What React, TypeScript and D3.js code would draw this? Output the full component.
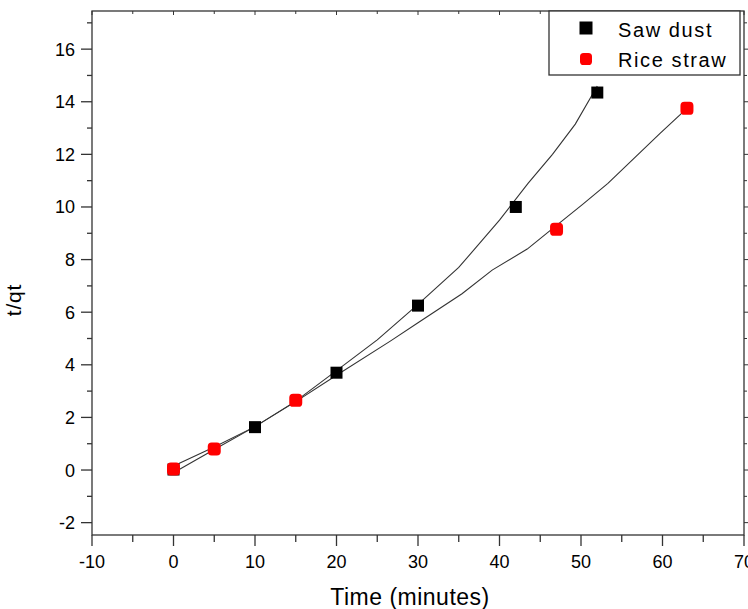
import { useEffect, useRef } from "react";
import * as d3 from "d3";

// measured points
const sawTime = [0, 10, 20, 30, 42, 52];
const sawVal = [0.02, 1.63, 3.7, 6.25, 10.0, 14.35];
const riceTime = [0, 5, 15, 47, 63];
const riceVal = [0.04, 0.8, 2.65, 9.15, 13.75];

// fitted curves
const sawFitTime = [0, 5, 10, 15, 20, 25, 30, 35, 40, 43.5, 46.5, 49.3, 52];
const sawFitVal = [-0.1, 0.78, 1.65, 2.62, 3.78, 4.95, 6.3, 7.7, 9.5, 10.9, 12.0, 13.15, 14.6];
const riceFitTime = [0, 5, 10, 15, 20, 26.6, 30, 35.4, 39.1, 43.4, 46.2, 50.2, 53.3, 59.7, 63];
const riceFitVal = [0.15, 0.88, 1.65, 2.6, 3.6, 4.9, 5.6, 6.7, 7.6, 8.4, 9.1, 10.1, 10.9, 12.8, 13.75];

const xMajor = [-10, 0, 10, 20, 30, 40, 50, 60, 70];
const xMinor = [-5, 5, 15, 25, 35, 45, 55, 65];
const yMajor = [-2, 0, 2, 4, 6, 8, 10, 12, 14, 16];
const yMinor = [-1, 1, 3, 5, 7, 9, 11, 13, 15, 17];

const legendNames = ["Saw dust", "Rice straw"];

const App = () => {
    const ref = useRef<SVGSVGElement | null>(null);

    useEffect(() => {
        const svg = d3.select(ref.current);
        svg.selectAll("*").remove();

        const left = 92, right = 744, top = 11, bottom = 535;
        const x = d3.scaleLinear().domain([-10, 70]).range([left, right]);
        const y = d3.scaleLinear().domain([-2.47, 17.45]).range([bottom, top]);
        const font = "'Liberation Sans', Arial, sans-serif";
        const axisCol = "#333";

        // frame
        svg.append("rect")
            .attr("x", left).attr("y", top)
            .attr("width", right - left).attr("height", bottom - top)
            .attr("fill", "none").attr("stroke", axisCol).attr("stroke-width", 1.3);

        // bottom axis
        const gx = svg.append("g");
        xMajor.forEach(v => {
            gx.append("line").attr("x1", x(v)).attr("x2", x(v)).attr("y1", bottom).attr("y2", bottom + 11)
                .attr("stroke", axisCol).attr("stroke-width", 1.3);
            gx.append("line").attr("x1", x(v)).attr("x2", x(v)).attr("y1", top).attr("y2", top + 4)
                .attr("stroke", axisCol).attr("stroke-width", 1);
            gx.append("text").attr("x", x(v)).attr("y", 568)
                .attr("text-anchor", "middle").attr("font-family", font).attr("font-size", 18)
                .attr("fill", "#000").text(v);
        });
        xMinor.forEach(v => {
            gx.append("line").attr("x1", x(v)).attr("x2", x(v)).attr("y1", bottom).attr("y2", bottom + 7)
                .attr("stroke", axisCol).attr("stroke-width", 1.3);
            gx.append("line").attr("x1", x(v)).attr("x2", x(v)).attr("y1", top).attr("y2", top + 3)
                .attr("stroke", axisCol).attr("stroke-width", 1);
        });

        // left axis
        const gy = svg.append("g");
        yMajor.forEach(v => {
            gy.append("line").attr("x1", left - 11).attr("x2", left).attr("y1", y(v)).attr("y2", y(v))
                .attr("stroke", axisCol).attr("stroke-width", 1.3);
            gy.append("line").attr("x1", right).attr("x2", right + 4).attr("y1", y(v)).attr("y2", y(v))
                .attr("stroke", axisCol).attr("stroke-width", 1);
            gy.append("text").attr("x", 75).attr("y", y(v) + 6.5)
                .attr("text-anchor", "end").attr("font-family", font).attr("font-size", 18)
                .attr("fill", "#000").text(v);
        });
        yMinor.forEach(v => {
            gy.append("line").attr("x1", left - 5).attr("x2", left).attr("y1", y(v)).attr("y2", y(v))
                .attr("stroke", axisCol).attr("stroke-width", 1.3);
            gy.append("line").attr("x1", right).attr("x2", right + 3).attr("y1", y(v)).attr("y2", y(v))
                .attr("stroke", axisCol).attr("stroke-width", 1);
        });

        // axis titles
        svg.append("text").attr("x", 410).attr("y", 605).attr("text-anchor", "middle")
            .attr("font-family", font).attr("font-size", 23).attr("letter-spacing", 0.5).text("Time (minutes)");
        svg.append("text").attr("transform", `translate(21, 300) rotate(-90)`).attr("text-anchor", "middle")
            .attr("font-family", font).attr("font-size", 21).attr("letter-spacing", 0.8).text("t/qt");

        // fitted curves
        const line = d3.line<number>()
            .x(d => d[0])
            .y(d => d[1]);
        const sawPts = sawFitTime.map((t, i) => [x(t), y(sawFitVal[i])]);
        const ricePts = riceFitTime.map((t, i) => [x(t), y(riceFitVal[i])]);
        svg.append("path").attr("d", (line as any)(sawPts))
            .attr("fill", "none").attr("stroke", "#333").attr("stroke-width", 1.1);
        svg.append("path").attr("d", (line as any)(ricePts))
            .attr("fill", "none").attr("stroke", "#333").attr("stroke-width", 1.1);

        const square = (g: any, cx: number, cy: number, s: number) =>
            g.append("rect").attr("x", cx - s / 2).attr("y", cy - s / 2).attr("width", s).attr("height", s)
                .attr("fill", "#000");
        const redDot = (g: any, cx: number, cy: number, s: number) =>
            g.append("rect").attr("x", cx - s / 2).attr("y", cy - s / 2).attr("width", s).attr("height", s)
                .attr("rx", s * 0.3).attr("fill", "#ff0000");

        // points
        sawTime.forEach((t, i) => square(svg, x(t), y(sawVal[i]), 12));
        riceTime.forEach((t, i) => redDot(svg, x(t), y(riceVal[i]), 13));

        // legend
        const lg = svg.append("g");
        lg.append("rect").attr("x", 549).attr("y", 11).attr("width", 191).attr("height", 64)
            .attr("fill", "#fff").attr("stroke", axisCol).attr("stroke-width", 1.3);
        square(lg, 586, 28, 13);
        redDot(lg, 586, 59, 12);
        lg.append("text").attr("x", 618).attr("y", 37).attr("font-family", font).attr("font-size", 20)
            .attr("letter-spacing", 1.6).text(legendNames[0]);
        lg.append("text").attr("x", 618).attr("y", 67).attr("font-family", font).attr("font-size", 20)
            .attr("letter-spacing", 1.6).text(legendNames[1]);
    }, []);

    return (
        <svg ref={ref} width={748} height={609}
             style={{ position: "absolute", left: 0, top: 0, background: "#fff" }} />
    );
};

export default App;
